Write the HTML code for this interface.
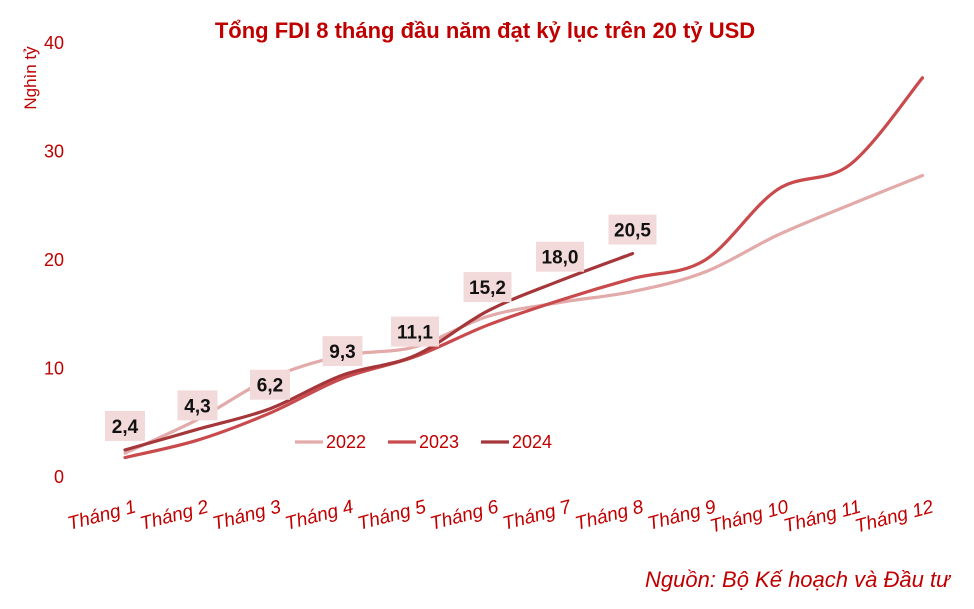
<!DOCTYPE html>
<html><head><meta charset="utf-8"><style>
body{margin:0;background:#fff;width:974px;height:604px;overflow:hidden;font-family:"Liberation Sans",sans-serif}
</style></head><body>
<svg id="c" width="974" height="604"></svg>
<script>
const months=["Tháng 1","Tháng 2","Tháng 3","Tháng 4","Tháng 5","Tháng 6","Tháng 7","Tháng 8","Tháng 9","Tháng 10","Tháng 11","Tháng 12"];
const s2022=[2.1,5.2,9.0,11.1,11.9,14.7,16.0,17.0,18.8,22.2,25.0,27.7];
const s2023=[1.7,3.3,5.8,9.0,11.0,13.9,16.2,18.2,19.9,26.4,28.7,36.7];
const s2024=[2.4,4.3,6.2,9.3,11.1,15.2,18.0,20.5];
const labels2024=["2,4","4,3","6,2","9,3","11,1","15,2","18,0","20,5"];
const yTicks=[0,10,20,30,40];
const NS="http://www.w3.org/2000/svg",svg=document.getElementById('c');
const x=i=>125+i*72.5, y=v=>476-v*10.85;
function el(t,a,p){const e=document.createElementNS(NS,t);for(const k in a)e.setAttribute(k,a[k]);(p||svg).appendChild(e);return e;}
const title=el('text',{x:485,y:38,'text-anchor':'middle','font-size':22,'font-weight':'bold',fill:'#c00000'});
title.textContent="Tổng FDI 8 tháng đầu năm đạt kỷ lục trên 20 tỷ USD";


const yt=el('text',{transform:'translate(36,78) rotate(-90)','text-anchor':'middle','font-size':17,fill:'#c00000'});
yt.textContent="Nghìn tỷ";


yTicks.forEach(v=>{const t=el('text',{x:64,y:y(v)+7,'text-anchor':'end','font-size':18,fill:'#c00000'});t.textContent=v;

});
months.forEach((m,i)=>{const t=el('text',{transform:`translate(${x(i)+12},${512}) rotate(-15)`,'text-anchor':'end','font-size':19,'font-style':'italic',fill:'#c00000'});t.textContent=m;

});
function path(arr){const p=arr.map((v,i)=>[x(i),y(v)]);let d=`M${p[0][0]},${p[0][1]}`;
for(let i=0;i<p.length-1;i++){const p0=p[i-1]||p[i],p1=p[i],p2=p[i+1],p3=p[i+2]||p2;
d+=` C${p1[0]+(p2[0]-p0[0])/6},${p1[1]+(p2[1]-p0[1])/6} ${p2[0]-(p3[0]-p1[0])/6},${p2[1]-(p3[1]-p1[1])/6} ${p2[0]},${p2[1]}`;}return d;}
[[s2022,'#e3aaaa','line-2022'],[s2023,'#c94a4c','line-2023'],[s2024,'#a5363a','line-2024']].forEach(([s,c,n])=>{
const l=el('path',{d:path(s),fill:'none',stroke:c,'stroke-width':3.2,'stroke-linecap':'round'});

});
labels2024.forEach((lb,i)=>{const cx=x(i),cy=y(s2024[i])-24,w=lb.length>3?48:40;
const g=el('g',{});


el('rect',{x:cx-w/2,y:cy-15,width:w,height:30,fill:'#f3dada'},g);
const t=el('text',{x:cx,y:cy+7,'text-anchor':'middle','font-size':19,'font-weight':'bold',fill:'#111'},g);t.textContent=lb;});
[['2022','#e3aaaa',295],['2023','#c94a4c',388],['2024','#a5363a',481]].forEach(([n,c,lx])=>{
const g=el('g',{});


el('line',{x1:lx,y1:442,x2:lx+28,y2:442,stroke:c,'stroke-width':3.2},g);
const t=el('text',{x:lx+31,y:448,'font-size':18,fill:'#c00000'},g);t.textContent=n;});
const src=el('text',{x:950,y:587,'text-anchor':'end','font-size':22,'font-style':'italic',fill:'#c00000'});
src.textContent="Nguồn: Bộ Kế hoạch và Đầu tư";


</script></body></html>
